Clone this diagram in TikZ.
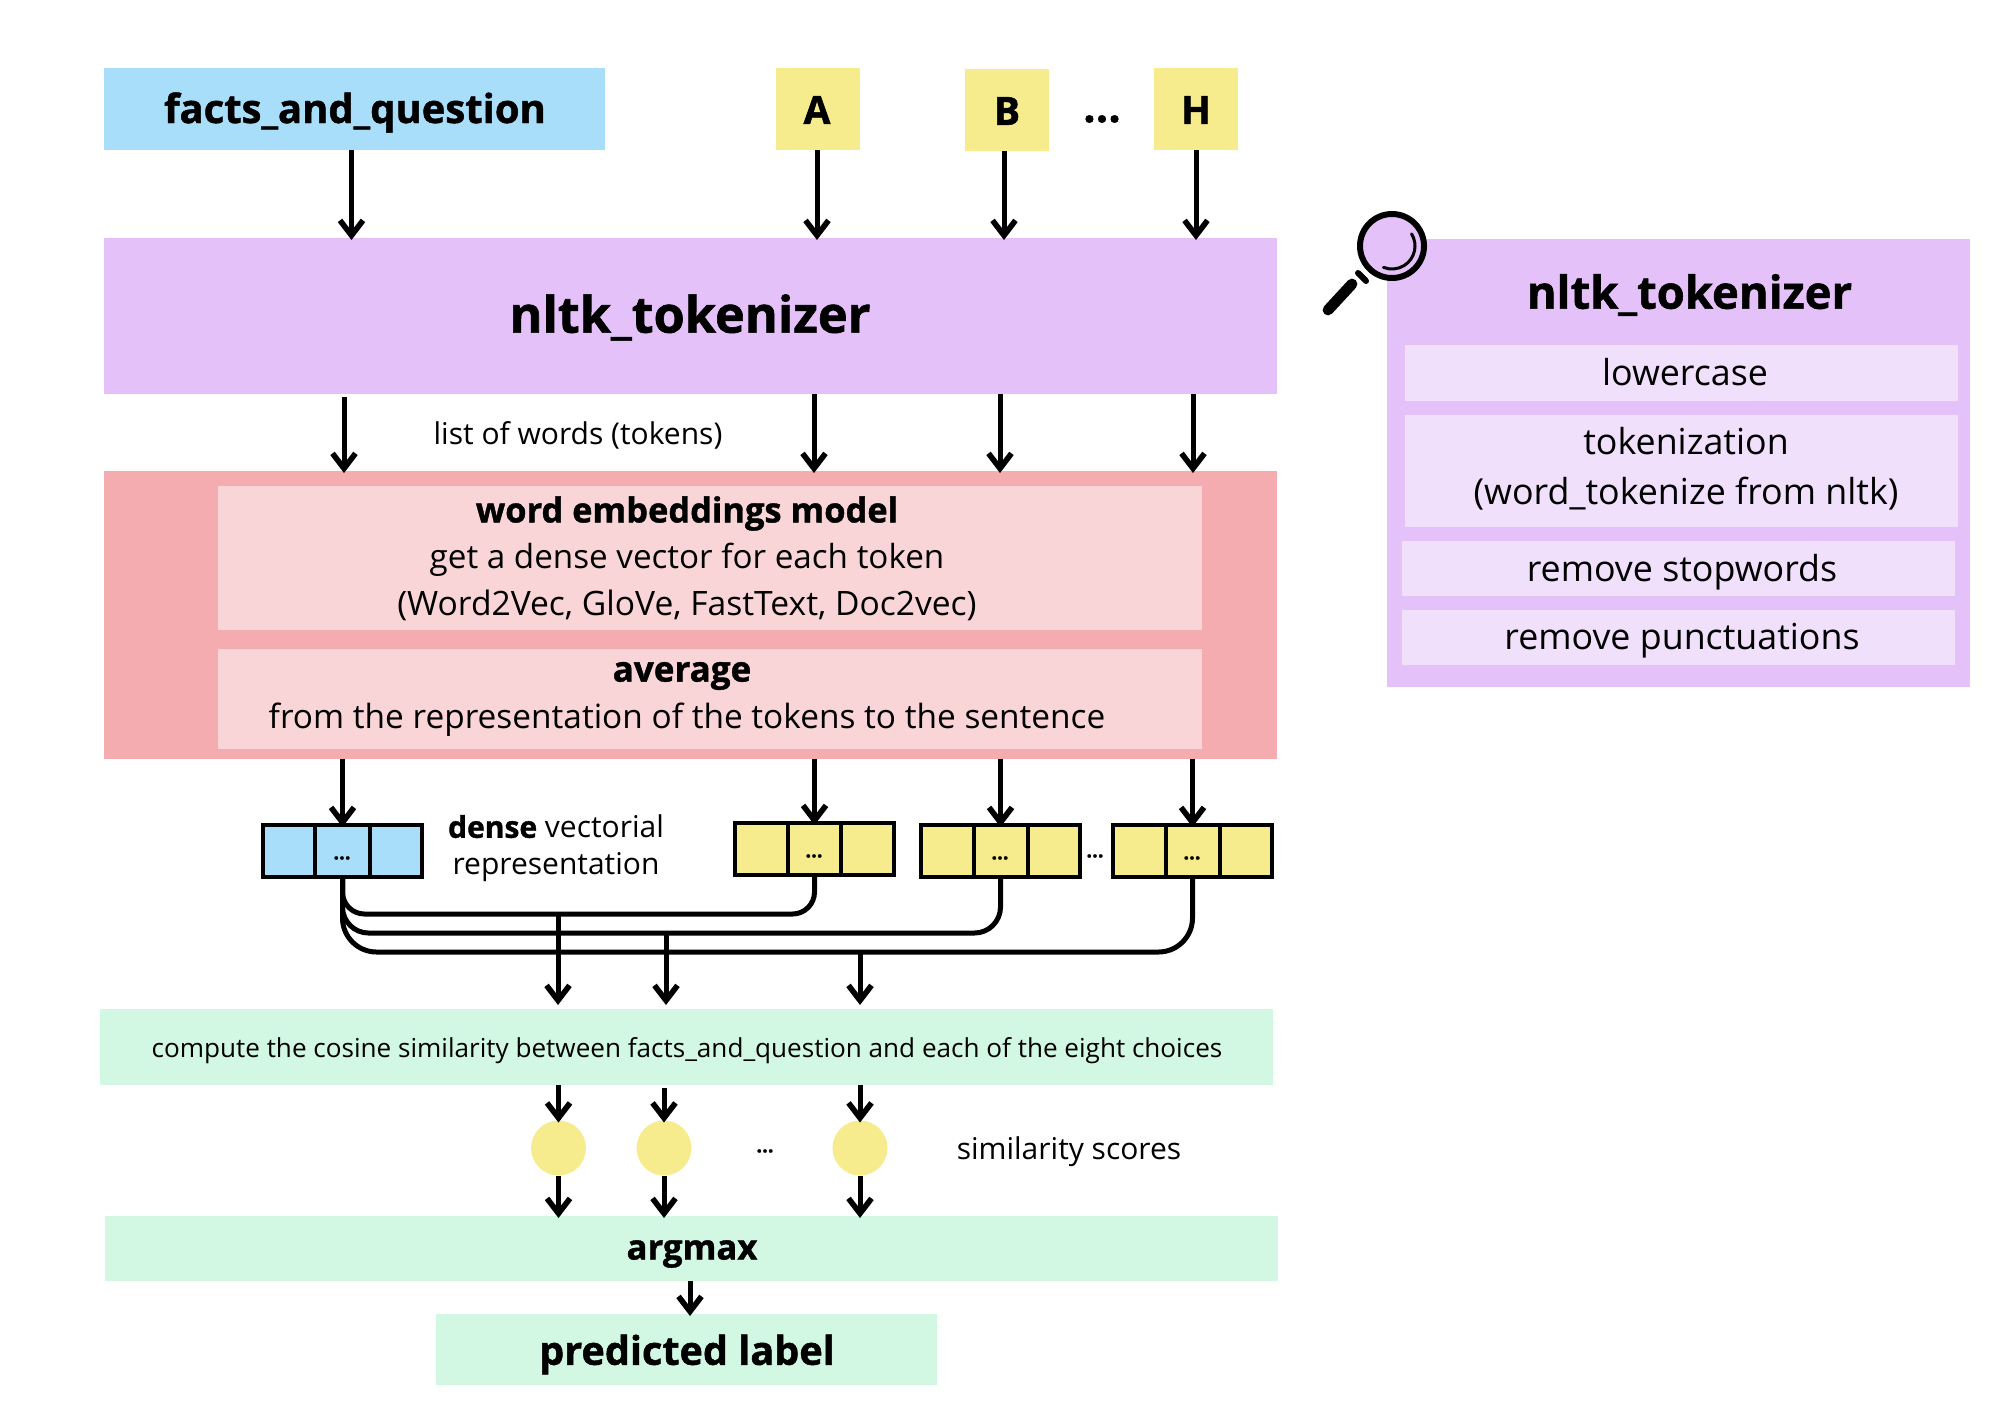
\documentclass[tikz,border=0pt]{standalone}
\usepackage{fontspec}
\setmainfont{Open Sans}
\newfontfamily\xbb{Open Sans}[BoldFeatures={FakeBold=1.2}]
\newcommand{\xb}{\xbb\bfseries}
\usetikzlibrary{fit,arrows.meta,calc}
\definecolor{cblue}{HTML}{A8DEFA}
\definecolor{cyel}{HTML}{F7EC8D}
\definecolor{cpur}{HTML}{E4C1F9}
\definecolor{cpurl}{HTML}{F0E0FB}
\definecolor{cred}{HTML}{F4ACB0}
\definecolor{credl}{HTML}{F9D5D8}
\definecolor{cgrn}{HTML}{D2F8E3}
\tikzset{
  bx/.style={fit={#1},inner sep=0pt,outer sep=0pt,draw=none},
  lbl/.style={inner sep=0pt,outer sep=0pt,align=center,text=black},
  ar/.style={line width=2.5pt,shorten >=-1pt,-{Straight Barb[length=7.5pt,width=11.5pt,line width=2.8pt]},black},
  ln/.style={line width=2.5pt,black},
  cell/.style={draw=black,line width=1.7pt,inner sep=0pt,outer sep=0pt},
  dot/.style={circle,fill=cyel,minimum size=27.5pt,inner sep=0pt,outer sep=0pt},
  fs/.style={font=\fontsize{#1}{#1}\selectfont},
  fx/.style={font=\fontsize{#1}{#1}\selectfont\xb},
}
\begin{document}
\begin{tikzpicture}[x=0.5pt,y=-0.5pt]
\useasboundingbox (0,0) rectangle (2000,1414);
% top
\node[bx={(104,68)(605,150)},fill=cblue] (facts) {};
\node[bx={(776,68)(860,150)},fill=cyel] (A) {};
\node[bx={(965,69)(1049,151)},fill=cyel] (B) {};
\node[bx={(1154,68)(1238,150)},fill=cyel] (H) {};
\node[lbl,fx=20] (tfacts) at (355,112.5) {facts\_and\_question};
\node[lbl,fx=19.5] (tA) at (817,110) {A};
\node[lbl,fx=19.5] (tB) at (1007,111) {B};
\node[lbl,fx=19.5] (tH) at (1196,110) {H};
\node[lbl,fx=22] (tdots) at (1102,119) {...};
% tokenizer
\node[bx={(104,238)(1277,394)},fill=cpur] (tok) {};
\node[lbl,fx=25.2] (ttok) at (690,317.5) {nltk\_tokenizer};
\node[lbl,fs=15] (twords) at (578,435) {list of words (tokens)};
% red
\node[bx={(104,471)(1277,759)},fill=cred] (red) {};
\node[bx={(218,486)(1202,630)},fill=credl] (in1) {};
\node[bx={(218,649)(1202,749)},fill=credl] (in2) {};
\node[lbl,fx=17.2] (t1a) at (687,513.5) {word embeddings model};
\node[lbl,fs=16.6] (t1b) at (687,560) {get a dense vector for each token};
\node[lbl,fs=16.8] (t1c) at (687,605.5) {(Word2Vec, GloVe, FastText, Doc2vec)};
\node[lbl,fx=17.5] (t2a) at (682,676) {average};
\node[lbl,fs=16.7] (t2b) at (687,720) {from the representation of the tokens to the sentence};
% vectors
\node[bx={(263,825)(422,877)},fill=cblue,cell] (vq) {};
\node[bx={(735,823)(894,875)},fill=cyel,cell] (va) {};
\node[bx={(921,825)(1080,877)},fill=cyel,cell] (vb) {};
\node[bx={(1113,825)(1272,877)},fill=cyel,cell] (vh) {};
\draw[cell] (315,825) -- (315,877) (370,825) -- (370,877);
\draw[cell] (788,823) -- (788,875) (841,823) -- (841,875);
\draw[cell] (974,825) -- (974,877) (1028,825) -- (1028,877);
\draw[cell] (1166,825) -- (1166,877) (1220,825) -- (1220,877);
\node[lbl,fx=10] (d1) at (342,858) {...};
\node[lbl,fx=10] (d2) at (814,856) {...};
\node[lbl,fx=10] (d3) at (1000,858) {...};
\node[lbl,fx=10] (d4) at (1095,856) {...};
\node[lbl,fx=10] (d5) at (1192,858) {...};
\node[lbl,font=\fontsize{15}{18.5}\selectfont] (tdense) at (556,848.5) {{\xb dense} vectorial\\representation};
% cosine
\node[bx={(100,1009)(1273,1085)},fill=cgrn] (cos) {};
\node[lbl,fs=13.05] (tcos) at (687,1051) {compute the cosine similarity between facts\_and\_question and each of the eight choices};
% circles
\node[dot] (c1) at (558.5,1148) {};
\node[dot] (c2) at (664,1148) {};
\node[dot] (c3) at (860,1148) {};
\node[lbl,fx=10] (d6) at (765,1151) {...};
\node[lbl,fs=15] (tsim) at (1069,1152) {similarity scores};
% bottom
\node[bx={(105,1216)(1278,1281)},fill=cgrn] (amax) {};
\node[lbl,fx=17.3] (tamax) at (692,1254) {argmax};
\node[bx={(436,1314)(937,1385)},fill=cgrn] (pred) {};
\node[lbl,fx=19.8] (tpred) at (687,1354.5) {predicted label};
% right panel
\node[bx={(1387,239)(1970,687)},fill=cpur] (pan) {};
\node[bx={(1405,345)(1958,401)},fill=cpurl] (p1) {};
\node[bx={(1405,415)(1958,527)},fill=cpurl] (p2) {};
\node[bx={(1402,541)(1955,596)},fill=cpurl] (p3) {};
\node[bx={(1402,610)(1955,665)},fill=cpurl] (p4) {};
\node[lbl,fx=22.7] (tpan) at (1689.5,295) {nltk\_tokenizer};
\node[lbl,fs=17.9] (tp1) at (1685,372) {lowercase};
\node[lbl,fs=17.9] (tp2a) at (1686,441) {tokenization};
\node[lbl,fs=17.9] (tp2b) at (1686,494) {(word\_tokenize from nltk)};
\node[lbl,fs=17.9] (tp3) at (1682,572) {remove stopwords};
\node[lbl,fs=17.9] (tp4) at (1682,641) {remove punctuations};
% magnifier
\draw[line width=3pt,fill=cpur] (1392,246) circle (32);
\draw[line width=1.5pt,line cap=round] (1392,246) ++(-32:23) arc[start angle=-32,end angle=112,radius=23];
\draw[line width=3pt,line cap=round] (1358,273) -- (1366,281);
\draw[line width=5.4pt,line cap=round] (1352,284) -- (1328,310);
% connectors top
\draw[ar] ([xshift=-1.5pt]facts.south) -- ([xshift=-1.5pt]facts.south |- tok.north);
\draw[ar] ([xshift=-0.5pt]A.south) -- ([xshift=-0.5pt]A.south |- tok.north);
\draw[ar] ([xshift=-1.5pt]B.south) -- ([xshift=-1.5pt]B.south |- tok.north);
\draw[ar] (H.south) -- (H.south |- tok.north);
% tokenizer to red
\coordinate (x1) at (344,394);
\coordinate (x2) at (814,394);
\coordinate (x3) at (1000,394);
\coordinate (x4) at (1193,394);
\draw[ar] ([yshift=-1.5pt]x1) -- (x1 |- red.north);
\draw[ar] (x2) -- (x2 |- red.north);
\draw[ar] (x3) -- (x3 |- red.north);
\draw[ar] (x4) -- (x4 |- red.north);
% red to vectors
\draw[ar] (vq.north |- red.south) -- (vq.north);
\draw[ar] (va.north |- red.south) -- (va.north);
\draw[ar] (vb.north |- red.south) -- (vb.north);
\draw[ar] (vh.north |- red.south) -- (vh.north);
% merging
\coordinate (q) at (vq.south);
\draw[ln,rounded corners=11pt] (q) -- (q |- 0,914) -- (va.south |- 0,914) -- (va.south);
\draw[ln,rounded corners=13pt] (q) -- (q |- 0,933) -- (vb.south |- 0,933) -- (vb.south);
\draw[ln,rounded corners=17pt] (q) -- (q |- 0,952) -- (vh.south |- 0,952) -- (vh.south);
\coordinate (j1) at (558,914);
\coordinate (j2) at (666,933);
\coordinate (j3) at (860,952);
\draw[ar,shorten >=2pt] (j1) -- (j1 |- cos.north);
\draw[ar,shorten >=2pt] (j2) -- (j2 |- cos.north);
\draw[ar,shorten >=2pt] (j3) -- (j3 |- cos.north);
% scores
\draw[ar] (c1 |- cos.south) -- (c1.north);
\draw[ar] ([yshift=-1.5pt]c2 |- cos.south) -- (c2.north);
\draw[ar] (c3 |- cos.south) -- (c3.north);
\draw[ar] (c1.south) -- (c1 |- amax.north);
\draw[ar] (c2.south) -- (c2 |- amax.north);
\draw[ar] (c3.south) -- (c3 |- amax.north);
\coordinate (xa) at (690,1281);
\draw[ar] (xa) -- (xa |- pred.north);
\end{tikzpicture}
\end{document}
